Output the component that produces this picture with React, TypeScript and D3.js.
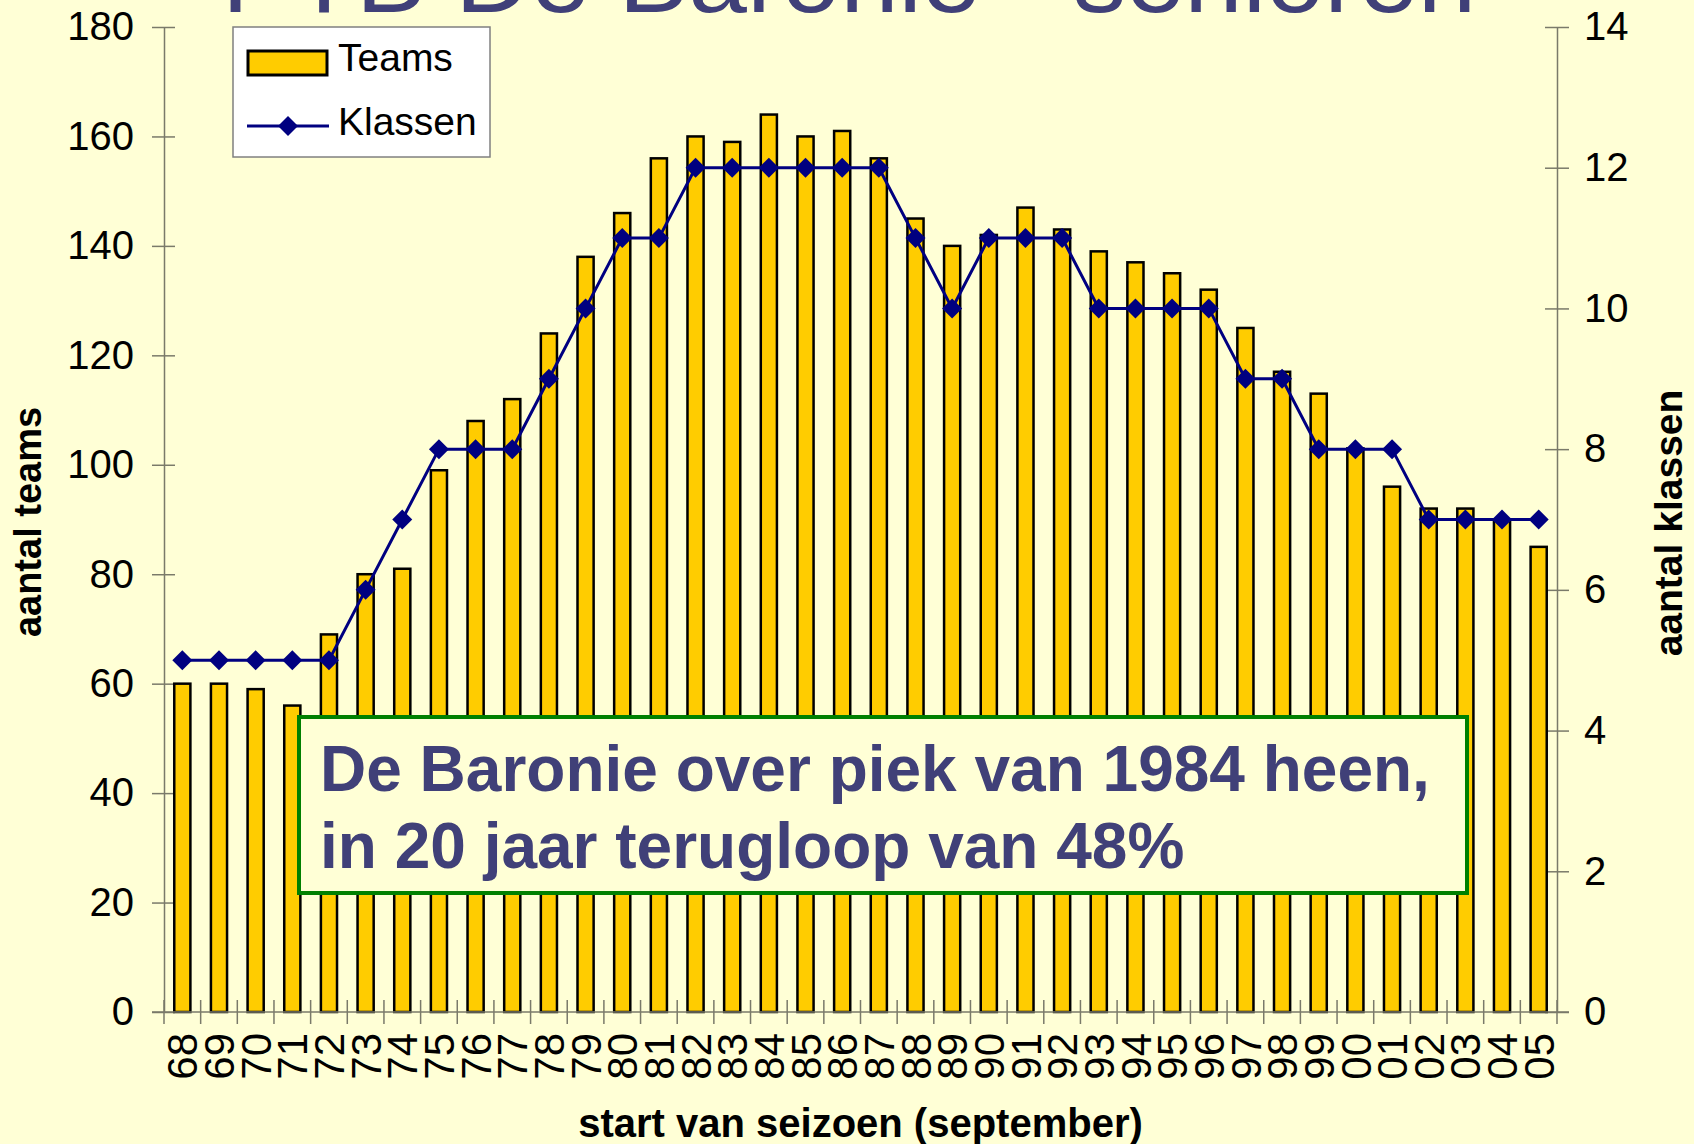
import { useEffect, useRef } from 'react';
import * as d3 from 'd3';

const seasons = ['68', '69', '70', '71', '72', '73', '74', '75', '76', '77', '78', '79', '80', '81', '82', '83', '84', '85', '86', '87', '88', '89', '90', '91', '92', '93', '94', '95', '96', '97', '98', '99', '00', '01', '02', '03', '04', '05'];
const teams = [60, 60, 59, 56, 69, 80, 81, 99, 108, 112, 124, 138, 146, 156, 160, 159, 164, 160, 161, 156, 145, 140, 142, 147, 143, 139, 137, 135, 132, 125, 117, 113, 103, 96, 92, 92, 90, 85];
const klassen = [5, 5, 5, 5, 5, 6, 7, 8, 8, 8, 9, 10, 11, 11, 12, 12, 12, 12, 12, 12, 11, 10, 11, 11, 11, 10, 10, 10, 10, 9, 9, 8, 8, 8, 7, 7, 7, 7];
const teamTicks = [0, 20, 40, 60, 80, 100, 120, 140, 160, 180];
const klassenTicks = [0, 2, 4, 6, 8, 10, 12, 14];

const W = 1694;
const H = 1144;
const FONT = '"Liberation Sans", Arial, sans-serif';

export default function App() {
  const svgRef = useRef<SVGSVGElement>(null);

  useEffect(() => {
    if (!svgRef.current) return;
    document.body.style.margin = '0';

    const plot = { left: 164, right: 1557, top: 27, bottom: 1012 };

    const svg = d3.select(svgRef.current);
    svg.selectAll('*').remove();

    svg.append('rect').attr('width', W).attr('height', H).attr('fill', '#FFFFD6');

    // title, mostly cut off at the top like in the slide
    svg.append('text')
      .attr('x', 222)
      .attr('y', 12)
      .attr('textLength', 1254)
      .attr('lengthAdjust', 'spacingAndGlyphs')
      .style('font-family', FONT)
      .style('font-size', '100px')
      .style('fill', '#404078')
      .text('PTB De Baronie - senioren');

    const x = d3.scaleBand().domain(seasons).range([plot.left, plot.right]).padding(0);
    const yL = d3.scaleLinear().domain([0, 180]).range([plot.bottom, plot.top]);
    const yR = d3.scaleLinear().domain([0, 14]).range([plot.bottom, plot.top]);

    const axisColor = '#7a7a6a';

    // left axis
    const gl = svg.append('g').attr('transform', `translate(${plot.left},0)`)
      .call(d3.axisLeft(yL).tickValues(teamTicks).tickSizeOuter(0).tickSizeInner(12).tickPadding(18));
    gl.select('.domain').attr('stroke', axisColor).attr('stroke-width', 1.5);
    gl.selectAll('.tick line').attr('x1', -12).attr('x2', 11).attr('stroke', axisColor).attr('stroke-width', 1.5);
    gl.selectAll('.tick text')
      .style('font-family', FONT).style('font-size', '40px').style('fill', '#000');

    // right axis
    const gr = svg.append('g').attr('transform', `translate(${plot.right},0)`)
      .call(d3.axisRight(yR).tickValues(klassenTicks).tickSizeOuter(0).tickSizeInner(12).tickPadding(15));
    gr.select('.domain').attr('stroke', axisColor).attr('stroke-width', 1.5);
    gr.selectAll('.tick line').attr('x1', -12).attr('x2', 12).attr('stroke', axisColor).attr('stroke-width', 1.5);
    gr.selectAll('.tick text')
      .style('font-family', FONT).style('font-size', '40px').style('fill', '#000');

    // bars
    const barW = x.bandwidth() * 0.44;
    svg.append('g')
      .selectAll('rect')
      .data(teams)
      .join('rect')
      .attr('x', (d, i) => (x(seasons[i]) || 0) + (x.bandwidth() - barW) / 2)
      .attr('y', d => yL(d))
      .attr('width', barW)
      .attr('height', d => yL(0) - yL(d))
      .attr('fill', '#FFCC00')
      .attr('stroke', '#000')
      .attr('stroke-width', 2.5);

    // bottom axis with boundary ticks
    svg.append('line')
      .attr('x1', plot.left - 12).attr('x2', plot.right + 12)
      .attr('y1', plot.bottom).attr('y2', plot.bottom)
      .attr('stroke', axisColor).attr('stroke-width', 1.5);
    const bounds = seasons.map(s => x(s) || 0).concat([plot.right]);
    svg.append('g')
      .selectAll('line')
      .data(bounds)
      .join('line')
      .attr('x1', d => d).attr('x2', d => d)
      .attr('y1', plot.bottom - 12).attr('y2', plot.bottom + 12)
      .attr('stroke', axisColor).attr('stroke-width', 1.5);

    svg.append('g')
      .selectAll('text')
      .data(seasons)
      .join('text')
      .attr('transform', d => `translate(${(x(d) || 0) + x.bandwidth() / 2},1033) rotate(-90)`)
      .attr('dy', '0.36em')
      .attr('text-anchor', 'end')
      .style('font-family', FONT)
      .style('font-size', '42px')
      .text(d => d);

    // klassen line
    const cx = (i: number) => (x(seasons[i]) || 0) + x.bandwidth() / 2;
    const line = d3.line<number>().x((d, i) => cx(i)).y(d => yR(d));
    svg.append('path')
      .datum(klassen)
      .attr('d', line)
      .attr('fill', 'none')
      .attr('stroke', '#000080')
      .attr('stroke-width', 3);
    svg.append('g')
      .selectAll('path')
      .data(klassen)
      .join('path')
      .attr('transform', (d, i) => `translate(${cx(i)},${yR(d)}) rotate(45)`)
      .attr('d', d3.symbol(d3.symbolSquare, 200)())
      .attr('fill', '#000080');

    // axis titles
    svg.append('text')
      .attr('transform', 'translate(41,522) rotate(-90)')
      .attr('text-anchor', 'middle')
      .style('font-family', FONT).style('font-size', '38px').style('font-weight', 'bold')
      .text('aantal teams');
    svg.append('text')
      .attr('transform', 'translate(1682,523) rotate(-90)')
      .attr('text-anchor', 'middle')
      .style('font-family', FONT).style('font-size', '39px').style('font-weight', 'bold')
      .text('aantal klassen');
    svg.append('text')
      .attr('x', (plot.left + plot.right) / 2)
      .attr('y', 1137)
      .attr('text-anchor', 'middle')
      .style('font-family', FONT).style('font-size', '40px').style('font-weight', 'bold')
      .text('start van seizoen (september)');

    // legend
    const legend = svg.append('g');
    legend.append('rect')
      .attr('x', 233).attr('y', 27).attr('width', 257).attr('height', 130)
      .attr('fill', '#fff').attr('stroke', '#808080').attr('stroke-width', 1.5);
    legend.append('rect')
      .attr('x', 248).attr('y', 51).attr('width', 79).attr('height', 24)
      .attr('fill', '#FFCC00').attr('stroke', '#000').attr('stroke-width', 3);
    legend.append('text')
      .attr('x', 338).attr('y', 71)
      .style('font-family', FONT).style('font-size', '39px')
      .text('Teams');
    legend.append('line')
      .attr('x1', 247).attr('x2', 329).attr('y1', 126).attr('y2', 126)
      .attr('stroke', '#000080').attr('stroke-width', 3);
    legend.append('path')
      .attr('transform', 'translate(288,126) rotate(45)')
      .attr('d', d3.symbol(d3.symbolSquare, 200)())
      .attr('fill', '#000080');
    legend.append('text')
      .attr('x', 338).attr('y', 135)
      .style('font-family', FONT).style('font-size', '39px')
      .text('Klassen');

    // annotation box
    const note = svg.append('g');
    note.append('rect')
      .attr('x', 299).attr('y', 717).attr('width', 1168).attr('height', 176)
      .attr('fill', '#FFFFD6').attr('stroke', '#008000').attr('stroke-width', 4);
    const noteLines = ['De Baronie over piek van 1984 heen,', 'in 20 jaar terugloop van 48%'];
    note.selectAll('text.note')
      .data(noteLines)
      .join('text')
      .attr('class', 'note')
      .attr('x', 320)
      .attr('y', (d, i) => 791 + i * 77)
      .style('font-family', FONT)
      .style('font-size', '64px')
      .style('font-weight', 'bold')
      .style('fill', '#404078')
      .text(d => d);
  }, []);

  return (
    <svg ref={svgRef} width={W} height={H} style={{ position: 'absolute', left: 0, top: 0, display: 'block' }}></svg>
  );
}
